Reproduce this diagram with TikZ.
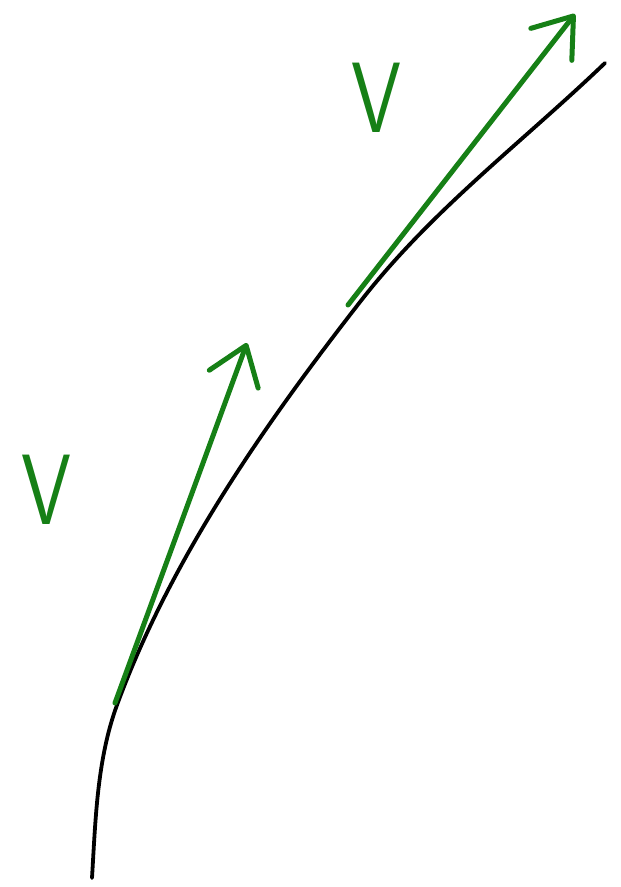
\documentclass[tikz,border=0pt]{standalone}
\usetikzlibrary{arrows.meta}
\definecolor{vgreen}{RGB}{22,128,22}
\begin{document}
\begin{tikzpicture}[x=1pt,y=-1pt,
  curve/.style={line width=3.8pt, black, line cap=round, line join=round},
  vec/.style={line width=5pt, vgreen, line cap=round, line join=round,
    -{Straight Barb[length=36pt,width=52pt,line width=5pt,round]}},
  vlabel/.style={text=vgreen, font=\sffamily\fontsize{100}{100}\selectfont, inner sep=0pt, xscale=0.8}]
\useasboundingbox (0,0) rectangle (621,887);
\coordinate (p0) at (92,878);
\coordinate (p1) at (117,705);
\coordinate (p2) at (360,302);
\coordinate (p3) at (605,63);
\draw[curve] (p0) .. controls (95.5,820) and (97,759.5) .. (p1)
  .. controls (170.5,559) and (265,424) .. (p2)
  .. controls (431,210.5) and (521.5,143) .. (p3);
\coordinate (a1) at (115,703);
\coordinate (b1) at (247,343);
\coordinate (a2) at (348,305);
\coordinate (b2) at (575,14);
\draw[vec] (a1) -- (b1);
\draw[vec] (a2) -- (b2);
\node[vlabel] (v1) at (46,490) {V};
\node[vlabel] (v2) at (376,98) {V};
\end{tikzpicture}
\end{document}
